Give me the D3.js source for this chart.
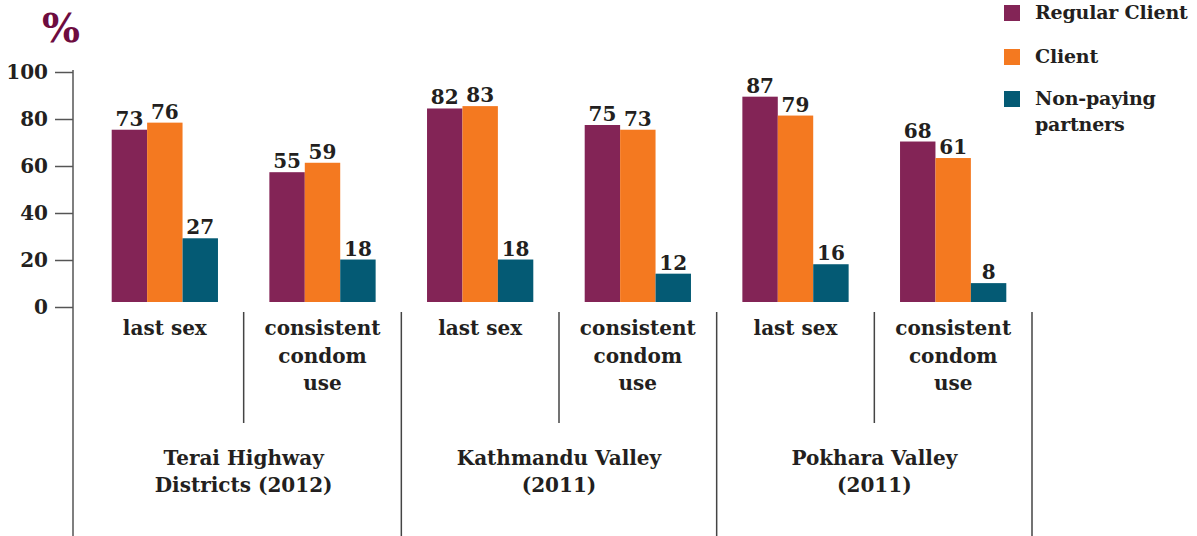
<!DOCTYPE html>
<html>
<head>
<meta charset="utf-8">
<script src="https://cdn.jsdelivr.net/npm/d3@7"></script>
<style>
  body { margin: 0; background: #fff; }
  text { font-family: "DejaVu Serif", serif; font-weight: bold; fill: #231f20; }
</style>
</head>
<body>
<svg id="chart" width="1197" height="536"></svg>
<script>
// data
const regions = ["Terai Highway\nDistricts (2012)", "Kathmandu Valley\n(2011)", "Pokhara Valley\n(2011)"];
const indicators = ["last sex", "consistent\ncondom\nuse"];
const seriesNames = ["Regular Client", "Client", "Non-paying\npartners"];
const regularClient = [73, 55, 82, 75, 87, 68];
const client = [76, 59, 83, 73, 79, 61];
const nonPaying = [27, 18, 18, 12, 16, 8];
const yTicks = [0, 20, 40, 60, 80, 100];

const colors = ["#832456", "#f47920", "#045a74"];
const series = [regularClient, client, nonPaying];

const groups = [];
regions.forEach((r, ri) => {
  indicators.forEach((ind, ii) => {
    groups.push({ region: ri, indicator: ind, idx: groups.length });
  });
});

const svg = d3.select("#chart");
const axisX = 73;
const baseline = 302;
const pad = 0.326;

const x0 = d3.scaleBand()
  .domain(groups.map(g => g.idx))
  .range([86, 1032])
  .paddingInner(pad)
  .paddingOuter(pad / 2);

const x1 = d3.scaleBand()
  .domain(d3.range(series.length))
  .range([0, x0.bandwidth()]);

const y = d3.scaleLinear().domain([0, 100]).range([baseline, 66]);
// the printed axis sits a few pixels lower than the bars
const yAxisScale = d3.scaleLinear().domain([0, 100]).range([307, 72]);

const edge = i => x0(i) - x0.step() * pad / 2;

// y axis
const yAxis = d3.axisLeft(yAxisScale)
  .tickValues(yTicks)
  .tickSize(18)
  .tickPadding(7);

const gy = svg.append("g")
  .attr("transform", `translate(${axisX},0)`)
  .call(yAxis);
gy.select(".domain").remove();
gy.selectAll(".tick line").attr("stroke", "#555").attr("stroke-width", 1.5);
gy.selectAll(".tick text")
  .attr("font-size", 20)
  .attr("font-family", "DejaVu Serif")
  .attr("font-weight", "bold")
  .attr("fill", "#231f20");

svg.append("line")
  .attr("x1", axisX).attr("x2", axisX)
  .attr("y1", 70).attr("y2", 536)
  .attr("stroke", "#555").attr("stroke-width", 1.5);

svg.append("text")
  .attr("x", 42).attr("y", 42)
  .attr("font-size", 40)
  .style("fill", "#6d0c3f")
  .text("%");

// separators
const seps = svg.append("g").attr("stroke", "#444").attr("stroke-width", 1.5);
groups.forEach((g, i) => {
  if (i === 0) return;
  const long = g.indicator === indicators[0];
  seps.append("line")
    .attr("x1", edge(i)).attr("x2", edge(i))
    .attr("y1", 312).attr("y2", long ? 536 : 423);
});
seps.append("line")
  .attr("x1", x0.range()[1]).attr("x2", x0.range()[1])
  .attr("y1", 312).attr("y2", 536);

// bars
const gBars = svg.append("g")
  .selectAll("g")
  .data(groups)
  .join("g")
  .attr("transform", d => `translate(${x0(d.idx)},0)`);

gBars.selectAll("rect")
  .data(d => series.map((s, si) => ({ si, v: s[d.idx] })))
  .join("rect")
  .attr("x", d => x1(d.si))
  .attr("y", d => y(d.v))
  .attr("width", x1.bandwidth())
  .attr("height", d => baseline - y(d.v))
  .attr("fill", d => colors[d.si]);

gBars.selectAll("text.val")
  .data(d => series.map((s, si) => ({ si, v: s[d.idx] })))
  .join("text")
  .attr("class", "val")
  .attr("x", d => x1(d.si) + x1.bandwidth() / 2)
  .attr("y", d => y(d.v) - 4)
  .attr("text-anchor", "middle")
  .attr("font-size", 20)
  .text(d => d.v);

// category labels
const multiLine = (sel, lines, lh) => {
  lines.forEach((l, i) => sel.append("tspan").attr("x", sel.attr("x")).attr("dy", i ? lh : 0).text(l));
};

groups.forEach(g => {
  const t = svg.append("text")
    .attr("x", x0(g.idx) + x0.bandwidth() / 2)
    .attr("y", 335)
    .attr("text-anchor", "middle")
    .attr("font-size", 20);
  multiLine(t, g.indicator.split("\n"), 27.5);
});

// region labels
regions.forEach((r, ri) => {
  const first = ri * indicators.length;
  const left = ri === 0 ? x0.range()[0] : edge(first);
  const right = ri === regions.length - 1 ? x0.range()[1] : edge(first + indicators.length);
  const t = svg.append("text")
    .attr("x", (left + right) / 2)
    .attr("y", 465)
    .attr("text-anchor", "middle")
    .attr("font-size", 20);
  multiLine(t, r.split("\n"), 27);
});

// legend
const legend = svg.append("g").attr("transform", "translate(1004,5)");
const legendY = [0, 44, 86];
seriesNames.forEach((name, i) => {
  const row = legend.append("g").attr("transform", `translate(0,${legendY[i]})`);
  row.append("rect").attr("width", 16).attr("height", 16).attr("fill", colors[i]);
  const t = row.append("text").attr("x", 31).attr("y", 14).attr("font-size", 19)
    .attr("letter-spacing", -0.2);
  multiLine(t, name.split("\n"), 26);
});
</script>
</body>
</html>
